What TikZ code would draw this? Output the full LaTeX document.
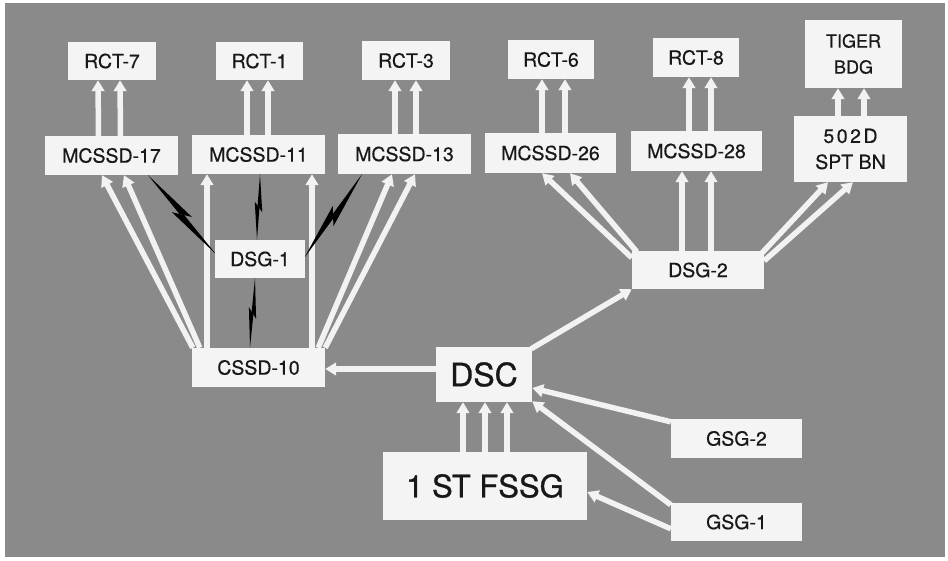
\documentclass[tikz,border=0pt]{standalone}
\usepackage{fontspec}
\setmainfont{TeX Gyre Heros}[FakeBold=0.5]
\usetikzlibrary{arrows.meta,calc}
\pgfdeclarelayer{bgl}
\pgfdeclarelayer{lines}
\pgfsetlayers{bgl,lines,main}
\definecolor{bggray}{RGB}{138,138,138}
\definecolor{boxc}{RGB}{244,244,244}
\definecolor{txt}{RGB}{24,24,24}
\definecolor{linec}{RGB}{242,242,242}
\newcommand\zap[3]{%
  \coordinate (zm1) at ($(#1)!0.58!(#2)$);
  \coordinate (zm2) at ($(#1)!0.42!(#2)$);
  \coordinate (zp1) at ($(zm1)!#3!90:(#2)$);
  \coordinate (zp2) at ($(zm2)!#3!90:(#1)$);
  \fill[black] (#1) -- (zp1) -- ($(zp1)!0.62!(zp2)$) -- cycle;
  \fill[black] (#2) -- (zp2) -- ($(zp2)!0.62!(zp1)$) -- cycle;
}
\begin{document}
\begin{tikzpicture}[x=1pt,y=-1pt,
  box/.style={fill=boxc, text=txt, inner sep=0pt, align=center,
    font=\fontsize{19.5}{26}\selectfont},
  arr/.style={draw=linec, line width=5.5pt, -{Triangle[length=11pt,width=12.5pt]}}]
\useasboundingbox (0,0) rectangle (948,561);
\begin{pgfonlayer}{bgl}
  \fill[white] (0,0) rectangle (948,561);
  \fill[bggray] (5,3) rectangle (945,557);
\end{pgfonlayer}

% top row
\node[box,minimum width=88pt,minimum height=38pt] (r7) at (112,61) {RCT-7};
\node[box,minimum width=87pt,minimum height=38pt] (r1) at (259.5,61) {RCT-1};
\node[box,minimum width=88pt,minimum height=39pt] (r3) at (406,60.5) {RCT-3};
\node[box,minimum width=86pt,minimum height=39pt] (r6) at (551,59.5) {RCT-6};
\node[box,minimum width=86pt,minimum height=39pt] (r8) at (696,57.5) {RCT-8};
\node[box,minimum width=97pt,minimum height=68pt,font=\fontsize{18}{26}\selectfont] (tg) at (853.5,54) {TIGER\\BDG};
% second row
\node[box,minimum width=133pt,minimum height=39pt] (m17) at (111.5,155.5) {MCSSD-17};
\node[box,minimum width=133pt,minimum height=39pt] (m11) at (258.5,154.5) {MCSSD-11};
\node[box,minimum width=133pt,minimum height=40pt] (m13) at (404.5,154) {MCSSD-13};
\node[box,minimum width=131pt,minimum height=40pt] (m26) at (550.5,153) {MCSSD-26};
\node[box,minimum width=131pt,minimum height=40pt] (m28) at (696.5,151) {MCSSD-28};
\node[box,minimum width=113pt,minimum height=66pt] (spt) at (850.5,149) {5\kern2.5pt 0\kern2.5pt 2\kern2.5pt D\\SPT BN};
% middle
\node[box,minimum width=90pt,minimum height=38pt] (dsg1) at (260,259) {DSG-1};
\node[box,minimum width=132pt,minimum height=38pt] (dsg2) at (698,270) {DSG-2};
\node[box,minimum width=133pt,minimum height=39pt] (cssd) at (258.5,367.5) {CSSD-10};
\node[box,minimum width=96pt,minimum height=55pt,font=\fontsize{32}{36}\selectfont\addfontfeature{FakeBold=1}] (dsc) at (484,374.5) {DSC};
\node[box,minimum width=204pt,minimum height=68pt,font=\fontsize{31}{36}\selectfont\addfontfeature{FakeBold=1}] (fssg) at (485,486) {1 ST FSSG};
\node[box,minimum width=131pt,minimum height=39pt] (gsg2) at (736.5,438.5) {GSG-2};
\node[box,minimum width=131pt,minimum height=38pt] (gsg1) at (736.5,522) {GSG-1};

\begin{pgfonlayer}{lines}
  % MCSSD -> RCT
  \draw[arr] ([xshift=-13pt]m17.north) -- ([xshift=-14pt]r7.south);
  \draw[arr] ([xshift=9pt]m17.north) -- ([xshift=8pt]r7.south);
  \draw[arr] ([xshift=-11.5pt]m11.north) -- ([xshift=-12.5pt]r1.south);
  \draw[arr] ([xshift=9.5pt]m11.north) -- ([xshift=8.5pt]r1.south);
  \draw[arr] ([xshift=-9.5pt]m13.north) -- ([xshift=-11pt]r3.south);
  \draw[arr] ([xshift=11.5pt]m13.north) -- ([xshift=10pt]r3.south);
  \draw[arr] ([xshift=-8.5pt]m26.north) -- ([xshift=-9pt]r6.south);
  \draw[arr] ([xshift=14.5pt]m26.north) -- ([xshift=14pt]r6.south);
  \draw[arr] ([xshift=-7.5pt]m28.north) -- ([xshift=-7pt]r8.south);
  \draw[arr] ([xshift=14.5pt]m28.north) -- ([xshift=15pt]r8.south);
  \draw[arr] ([xshift=-12.5pt]spt.north) -- ([xshift=-15.5pt]tg.south);
  \draw[arr] ([xshift=13.5pt]spt.north) -- ([xshift=10.5pt]tg.south);
  % CSSD-10 fan
  \draw[arr] ([xshift=1pt]cssd.north west) -- ([xshift=-9.5pt]m17.south);
  \draw[arr] ([xshift=8pt]cssd.north west) -- ([xshift=12.5pt]m17.south);
  \draw[arr] ([xshift=-51.5pt]cssd.north) -- ([xshift=-51.5pt]m11.south);
  \draw[arr] ([xshift=53.5pt]cssd.north) -- ([xshift=53.5pt]m11.south);
  \draw[arr] ([xshift=-7pt]cssd.north east) -- ([xshift=-12.5pt]m13.south);
  \draw[arr] (cssd.north east) -- ([xshift=10.5pt]m13.south);
  % DSC -> CSSD-10
  \draw[arr] ([yshift=5.5pt]dsc.west) -- ([yshift=-1.5pt]cssd.east);
  % FSSG -> DSC
  \draw[arr] ([xshift=-22pt]fssg.north) -- ([xshift=-21pt]dsc.south);
  \draw[arr] (fssg.north) -- ([xshift=1pt]dsc.south);
  \draw[arr] ([xshift=22pt]fssg.north) -- ([xshift=23pt]dsc.south);
  % DSC -> DSG-2
  \draw[arr] ([xshift=-1pt,yshift=-2pt]dsc.north east) -- (dsg2.south west);
  % DSG-2 fan
  \draw[arr] ([yshift=-7pt]dsg2.north west) -- ([xshift=-8.5pt]m26.south);
  \draw[arr] ([xshift=5pt,yshift=-1pt]dsg2.north west) -- ([xshift=19.5pt]m26.south);
  \draw[arr] ([xshift=-16pt]dsg2.north) -- ([xshift=-14.5pt]m28.south);
  \draw[arr] ([xshift=13pt]dsg2.north) -- ([xshift=14.5pt]m28.south);
  \draw[arr] ([xshift=-2pt,yshift=-2pt]dsg2.north east) -- ([xshift=-22.5pt]spt.south);
  \draw[arr] ([yshift=-10pt]dsg2.north east) -- ([xshift=2.5pt]spt.south);
  % GSG -> DSC / FSSG
  \draw[arr] ([yshift=-3pt]gsg2.north west) -- ([yshift=-13.5pt]dsc.east);
  \draw[arr] ([yshift=-2pt]gsg1.north west) -- ([yshift=1pt]dsc.south east);
  \draw[arr] ([yshift=-26pt]gsg1.north west) -- ([yshift=-6pt]fssg.east);
  % radio links
  \coordinate (z1a) at ([xshift=36.5pt]m17.south);
  \coordinate (z1b) at ([xshift=1pt,yshift=5pt]dsg1.west);
  \coordinate (z2a) at ([xshift=1.5pt]m11.south);
  \coordinate (z2b) at ([xshift=-3pt]dsg1.north);
  \coordinate (z3a) at ([xshift=-42.5pt]m13.south);
  \coordinate (z3b) at ([xshift=-1pt,yshift=1pt]dsg1.east);
  \coordinate (z4a) at ([xshift=-5pt]dsg1.south);
  \coordinate (z4b) at ([xshift=-8.5pt]cssd.north);
  \zap{z1a}{z1b}{6pt}
  \zap{z2a}{z2b}{4pt}
  \zap{z3a}{z3b}{6pt}
  \zap{z4a}{z4b}{4pt}
\end{pgfonlayer}
\end{tikzpicture}
\end{document}
